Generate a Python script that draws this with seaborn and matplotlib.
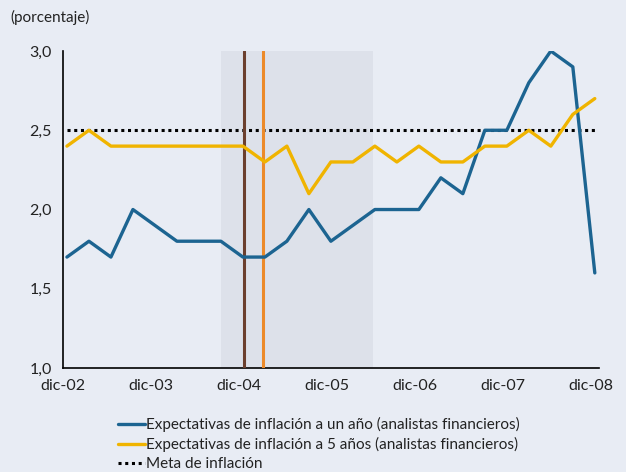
import numpy as np
import pandas as pd
import matplotlib
matplotlib.use("Agg")
import matplotlib.pyplot as plt
import seaborn as sns
from matplotlib.lines import Line2D

# Quarterly data, dic-02 .. dic-08
quarters = list(range(25))
un_anio = [1.7, 1.8, 1.7, 2.0, 1.9, 1.8, 1.8, 1.8, 1.7, 1.7, 1.8, 2.0, 1.8,
           1.9, 2.0, 2.0, 2.0, 2.2, 2.1, 2.5, 2.5, 2.8, 3.0, 2.9, 1.6]
cinco_anios = [2.4, 2.5, 2.4, 2.4, 2.4, 2.4, 2.4, 2.4, 2.4, 2.3, 2.4, 2.1, 2.3,
               2.3, 2.4, 2.3, 2.4, 2.3, 2.3, 2.4, 2.4, 2.5, 2.4, 2.6, 2.7]
meta = 2.5
tick_labels = ["dic-02", "dic-03", "dic-04", "dic-05", "dic-06", "dic-07", "dic-08"]
label_un = "Expectativas de inflación a un año (analistas financieros)"
label_cinco = "Expectativas de inflación a 5 años (analistas financieros)"
label_meta = "Meta de inflación"

df = pd.DataFrame({"q": quarters, "un": un_anio, "cinco": cinco_anios})

bg = "#e8ecf4"
blue = "#1c6491"
yellow = "#f0b400"
brown = "#6b3f2e"
orange = "#ec8a2a"

sns.set_style("white")
plt.rcParams["font.family"] = ["Lato", "DejaVu Sans"]

fig = plt.figure(figsize=(6.26, 4.72), dpi=100, facecolor=bg)
ax = fig.add_axes([0.1006, 0.2203, 0.8566, 0.6716])
ax.set_facecolor(bg)

# shaded period
ax.axvspan(7.0, 13.9, ymin=0, ymax=1.0, color="#dde1ea", zorder=0, lw=0)
ax.axvline(8.05, color=brown, lw=2.2, zorder=3)
ax.axvline(8.9, color=orange, lw=2.2, zorder=3)

ax.plot([0, 24], [meta, meta], color="black", lw=2.2, ls=(0, (1, 1.2)), zorder=2)
sns.lineplot(data=df, x="q", y="un", color=blue, lw=2.4, ax=ax, zorder=4)
sns.lineplot(data=df, x="q", y="cinco", color=yellow, lw=2.4, ax=ax, zorder=4)

ax.set_xlim(-0.18, 24.2)
ax.set_ylim(1.0, 3.0)
ax.set_xticks([4 * i - 0.18 for i in range(7)])
ax.set_xticklabels(tick_labels)
ax.set_yticks([1.0, 1.5, 2.0, 2.5, 3.0])
ax.set_yticklabels(["1,0", "1,5", "2,0", "2,5", "3,0"])
ax.set_xlabel("")
ax.set_ylabel("")
for s in ["top", "right"]:
    ax.spines[s].set_visible(False)
for s in ["left", "bottom"]:
    ax.spines[s].set_color("black")
    ax.spines[s].set_linewidth(1.2)
ax.tick_params(direction="in", length=5, width=1.2, colors="black",
               labelsize=11.5, labelcolor="#222222")
ax.tick_params(axis="y", pad=24)
ax.tick_params(axis="x", pad=8)
for lbl in ax.get_yticklabels():
    lbl.set_horizontalalignment("left")

fig.text(0.016, 0.963, "(porcentaje)", fontsize=11, color="#222222", va="center")

handles = [Line2D([], [], color=blue, lw=2.4),
           Line2D([], [], color=yellow, lw=2.4),
           Line2D([], [], color="black", lw=2.2, ls=(0, (1, 1.2)))]
fig.legend(handles, [label_un, label_cinco, label_meta], loc="lower left",
           bbox_to_anchor=(0.166, -0.027), frameon=False, fontsize=11,
           handlelength=1.8, handletextpad=0.05, labelspacing=0.33,
           labelcolor="#222222")

fig.savefig("out.png", dpi=100, facecolor=bg)
